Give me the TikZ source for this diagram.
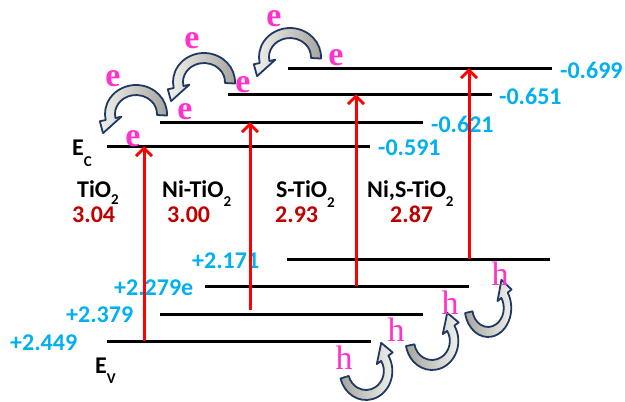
\documentclass[tikz,border=0pt]{standalone}
\usepackage{fontspec}
\setmainfont{Carlito}
\newfontfamily\carrierfont{Liberation Serif}
\usepackage{tikz}
\usetikzlibrary{arrows.meta,positioning,calc}
\definecolor{levelblue}{RGB}{0,176,240}
\definecolor{gapred}{RGB}{192,0,0}
\definecolor{carrierpink}{RGB}{255,51,204}
\definecolor{hopedge}{RGB}{31,56,100}
\definecolor{hoplight}{RGB}{242,242,236}
\definecolor{hopdark}{RGB}{165,165,158}
\newcommand{\lowsub}[2]{\raisebox{#1}{\fontsize{15}{15}\selectfont #2}}
% curved hop arrow: placement, tail angle, head angle, head direction, shading
\newcommand{\hoparrow}[5]{%
  \begin{scope}[#1]
  \shadedraw[hop,#5] ({31*cos(#2)},{29*sin(#2)})
    arc[start angle=#2,end angle=#3,x radius=31,y radius=29]
    -- ({37*cos(#3)},{35*sin(#3)})
    -- ($({26*cos(#3)},{24*sin(#3)})+(#4:16)$)
    -- ({15*cos(#3)},{13*sin(#3)})
    -- ({21*cos(#3)},{19*sin(#3)})
    arc[start angle=#3,end angle=#2,x radius=21,y radius=19] -- cycle;
  \end{scope}}

\begin{document}
\begin{tikzpicture}[x=1pt,y=-1pt,
  level/.style={line width=3pt},
  excite/.style={line width=3pt,red,-{Straight Barb[length=8pt,width=16pt]}},
  levelval/.style={font=\fontsize{24}{28}\selectfont\bfseries,text=levelblue,inner sep=0pt,anchor=base west},
  material/.style={font=\fontsize{24}{28}\selectfont\bfseries,inner sep=0pt,anchor=base west},
  gap/.style={font=\fontsize{24}{28}\selectfont\bfseries,text=gapred,inner sep=0pt,anchor=base west},
  carrier/.style={font=\fontsize{34}{36}\selectfont\carrierfont,text=carrierpink,inner sep=0pt},
  hop/.style={draw=hopedge,line width=1.8pt,line join=round}]
  \useasboundingbox (0,0) rectangle (625,402);

  % Conduction band edges
  \draw[level] (107,146) -- (370,146);
  \draw[level] (160,122) -- (423,122);
  \draw[level] (228,94) -- (492,94);
  \draw[level] (288,68) -- (552,68);

  % Valence band edges
  \draw[level] (107,341) -- (371,341);
  \draw[level] (160,314) -- (423,314);
  \draw[level] (205,286) -- (469,286);
  \draw[level] (287,259) -- (550,259);

  % Band edge values
  \node[levelval] (cbTi) at (378,155) {-0.591};
  \node[levelval] (cbNi) at (431,132) {-0.621};
  \node[levelval] (cbS) at (499,104) {-0.651};
  \node[levelval] (cbNiS) at (560,78) {-0.699};
  \node[levelval] (vbTi) at (10,350) {+2.449};
  \node[levelval] (vbNi) at (66,322) {+2.379};
  \node[levelval] (vbS) at (114,295) {+2.279e};
  \node[levelval] (vbNiS) at (192,268) {+2.171};

  % Edge names
  \node[material] (ec) at (72,155) {E\lowsub{-11pt}{C}};
  \node[material] (ev) at (95,373) {E\lowsub{-10pt}{V}};

  % Materials and band gaps
  \node[material] (nameTi) at (77,197) {TiO\lowsub{-7pt}{2}};
  \node[material] (nameNi) at (162,197) {Ni-TiO\lowsub{-9pt}{2}};
  \node[material] (nameS) at (276,197) {S-TiO\lowsub{-10pt}{2}};
  \node[material] (nameNiS) at (367,197) {Ni,S-TiO\lowsub{-9pt}{2}};
  \node[gap] (gapTi) at (72,222) {3.04};
  \node[gap] (gapNi) at (167,222) {3.00};
  \node[gap] (gapS) at (275,222) {2.93};
  \node[gap] (gapNiS) at (390,222) {2.87};

  % Excitation
  \coordinate (upTiA) at (144,341); \coordinate (upTiB) at (144,146);
  \coordinate (upNiA) at (250,310); \coordinate (upNiB) at (250,122);
  \coordinate (upSA) at (356,286);  \coordinate (upSB) at (356,94);
  \coordinate (upNiSA) at (469,259); \coordinate (upNiSB) at (469,68);
  \draw[excite] (upTiA) -- (upTiB);
  \draw[excite] (upNiA) -- (upNiB);
  \draw[excite] (upSA) -- (upSB);
  \draw[excite] (upNiSA) -- (upNiSB);

  % Electron transfer
  \hoparrow{shift={(136,114)}}{3}{-192}{118}{left color=hoplight,right color=hopdark}
  \hoparrow{shift={(204,82)}}{3}{-192}{118}{left color=hoplight,right color=hopdark}
  \hoparrow{shift={(290,57)}}{3}{-192}{118}{left color=hoplight,right color=hopdark}
  \node[carrier] (eTi) at (133,139) {\textbf{e}};
  \node[carrier] (eNi) at (185,112) {\textbf{e}};
  \node[carrier] (eS) at (243,85) {\textbf{e}};
  \node[carrier] (eNiS) at (336,58) {\textbf{e}};
  \node[carrier] (eHopA) at (113,79) {\textbf{e}};
  \node[carrier] (eHopB) at (192,41) {\textbf{e}};
  \node[carrier] (eHopC) at (274,19) {\textbf{e}};

  % Hole transfer
  \hoparrow{shift={(366,371)},xscale=0.85}{165}{-32}{-105}{left color=hopdark,right color=hoplight}
  \hoparrow{shift={(432,341)},xscale=0.85}{170}{-32}{-105}{left color=hopdark,right color=hoplight}
  \hoparrow{shift={(488,308)},xscale=0.75}{170}{-32}{-105}{left color=hopdark,right color=hoplight}
  \node[carrier] (hTi) at (344,358) {h};
  \node[carrier] (hNi) at (396,330) {h};
  \node[carrier] (hS) at (450,303) {h};
  \node[carrier] (hNiS) at (500,274) {h};
\end{tikzpicture}
\end{document}
